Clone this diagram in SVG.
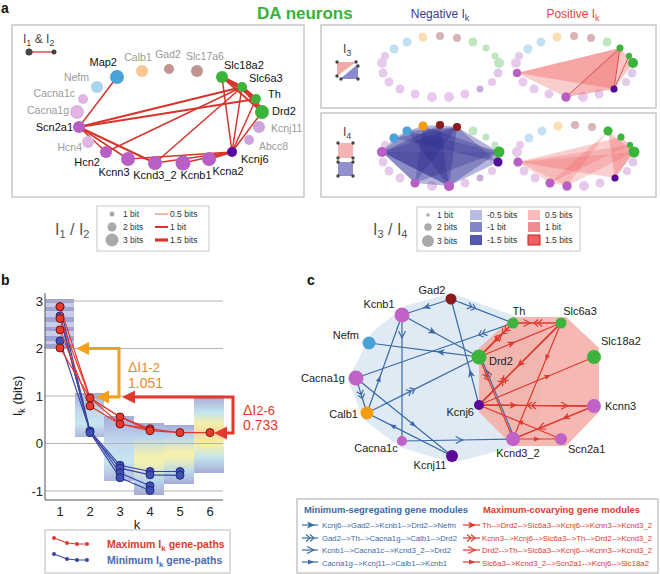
<svg xmlns="http://www.w3.org/2000/svg" xmlns:xlink="http://www.w3.org/1999/xlink" width="660" height="574" viewBox="0 0 660 574">
<style>
text{font-family:"Liberation Sans",Arial,sans-serif}
.lbl{font-size:11px;fill:#111}
.glbl{font-size:10.5px;fill:#9a9a9a}
.clbl{font-size:11px;fill:#222}
.pl{font-weight:bold;font-size:14px;fill:#111}
.re{stroke:#d7352b;fill:none;stroke-linecap:round}
.be{stroke:#3b6aa6;fill:none;stroke-width:1.2}
.rce{stroke:#e0392e;fill:none;stroke-width:1.2}
.box{fill:#fff;stroke:#c8c8c8;stroke-width:1.5}
.lg{font-size:8.5px;fill:#333}
.grid{stroke:#b4b4b4;stroke-width:1}
.tick{font-size:13px;fill:#222}
.bl{stroke:#3a44a6;stroke-width:1.2;fill:none}
.rl{stroke:#e2392c;stroke-width:1.2;fill:none}
.bp{fill:#3f4fb0;stroke:#202a80;stroke-width:1}
.rp{fill:#e53a2c;stroke:#7a1510;stroke-width:1}
.mt{font-size:8px}
</style>
<defs>
<g id="ring" opacity="0.32">
<circle cx="-46" cy="-18" r="4.5" fill="#4aa3d8"/>
<circle cx="-33" cy="-25" r="4.5" fill="#4aa3d8"/>
<circle cx="-17" cy="-30" r="4.5" fill="#f39c12"/>
<circle cx="0" cy="-31" r="4" fill="#8b1a1a"/>
<circle cx="17" cy="-29" r="4" fill="#8b1a1a"/>
<circle cx="33" cy="-25" r="4.5" fill="#3cb43c"/>
<circle cx="46" cy="-19" r="3.5" fill="#3cb43c"/>
<circle cx="55" cy="-11" r="3.5" fill="#3cb43c"/>
<circle cx="59" cy="-4" r="5" fill="#3cb43c"/>
<circle cx="58" cy="6" r="4.5" fill="#9a5cc8"/>
<circle cx="52" cy="15" r="4" fill="#b85ec4"/>
<circle cx="40" cy="22" r="3.5" fill="#5a0a9a"/>
<circle cx="25" cy="27" r="4.5" fill="#b85ec4"/>
<circle cx="9" cy="30" r="5" fill="#b85ec4"/>
<circle cx="-8" cy="30" r="5" fill="#b85ec4"/>
<circle cx="-25" cy="27" r="4.5" fill="#b85ec4"/>
<circle cx="-40" cy="22" r="4.5" fill="#b85ec4"/>
<circle cx="-51" cy="15" r="4.5" fill="#b85ec4"/>
<circle cx="-57" cy="6" r="4.5" fill="#b85ec4"/>
<circle cx="-58" cy="-4" r="5" fill="#b85ec4"/>
<circle cx="-55" cy="-11" r="4" fill="#b85ec4"/>
</g>
<linearGradient id="heat" x1="0" y1="0" x2="0" y2="1">
<stop offset="0" stop-color="#a6abd8"/>
<stop offset="0.2" stop-color="#b9d6ee"/>
<stop offset="0.45" stop-color="#f4f0b0"/>
<stop offset="0.55" stop-color="#f4f0b0"/>
<stop offset="0.8" stop-color="#b9d6ee"/>
<stop offset="1" stop-color="#a6abd8"/>
</linearGradient>
<linearGradient id="heat2" x1="0" y1="0" x2="0" y2="1">
<stop offset="0" stop-color="#a6abd8"/>
<stop offset="0.4" stop-color="#c2d8ee"/>
<stop offset="0.7" stop-color="#c6e6f0"/>
<stop offset="1" stop-color="#b0b6de"/>
</linearGradient>
<linearGradient id="heat6" x1="0" y1="0" x2="0" y2="1">
<stop offset="0" stop-color="#a6abd8"/>
<stop offset="0.2" stop-color="#c4e4ee"/>
<stop offset="0.35" stop-color="#f4f0a8"/>
<stop offset="0.48" stop-color="#f8d8a0"/>
<stop offset="0.62" stop-color="#f4f0a8"/>
<stop offset="0.8" stop-color="#c4e4ee"/>
<stop offset="1" stop-color="#a6abd8"/>
</linearGradient>
<marker id="bA" viewBox="-6 -6 12 12" markerWidth="12" markerHeight="12" orient="auto" markerUnits="userSpaceOnUse"><path d="M-4,-3.5 L4,0 L-4,3.5 L-2,0 Z" fill="#3b6aa6"/></marker>
<marker id="bB" viewBox="-6 -6 12 12" markerWidth="12" markerHeight="12" orient="auto" markerUnits="userSpaceOnUse"><path d="M-5,-3.5 L-1,0 L-5,3.5 M-1,-3.5 L3,0 L-1,3.5" fill="none" stroke="#3b6aa6" stroke-width="1.2"/></marker>
<marker id="bC" viewBox="-6 -6 12 12" markerWidth="12" markerHeight="12" orient="auto" markerUnits="userSpaceOnUse"><path d="M-4,-3.5 L3,0 L-4,3.5" fill="none" stroke="#3b6aa6" stroke-width="1.2"/></marker>
<marker id="bD" viewBox="-6 -6 12 12" markerWidth="12" markerHeight="12" orient="auto" markerUnits="userSpaceOnUse"><path d="M-3,-2.5 L3,0 L-3,2.5 Z" fill="#3b6aa6"/></marker>
<marker id="rA" viewBox="-6 -6 12 12" markerWidth="12" markerHeight="12" orient="auto" markerUnits="userSpaceOnUse"><path d="M-4,-3.5 L4,0 L-4,3.5 L-2,0 Z" fill="#e0392e"/></marker>
<marker id="rB" viewBox="-6 -6 12 12" markerWidth="12" markerHeight="12" orient="auto" markerUnits="userSpaceOnUse"><path d="M-5,-3.5 L-1,0 L-5,3.5 M-1,-3.5 L3,0 L-1,3.5" fill="none" stroke="#e0392e" stroke-width="1.2"/></marker>
<marker id="rC" viewBox="-6 -6 12 12" markerWidth="12" markerHeight="12" orient="auto" markerUnits="userSpaceOnUse"><path d="M-4,-3.5 L3,0 L-4,3.5" fill="none" stroke="#e0392e" stroke-width="1.2"/></marker>
<marker id="rD" viewBox="-6 -6 12 12" markerWidth="12" markerHeight="12" orient="auto" markerUnits="userSpaceOnUse"><path d="M-3,-2.5 L3,0 L-3,2.5 Z" fill="#e0392e"/></marker>
</defs>
<rect width="660" height="574" fill="#fff"/>

<!-- ================= Panel a ================= -->
<text class="pl" x="1" y="13">a</text>
<text x="257" y="19" font-size="17" font-weight="bold" fill="#36b23a">DA neurons</text>
<text x="440" y="18" font-size="12" fill="#3a3a98" text-anchor="middle">Negative I<tspan font-size="9" dy="3">k</tspan></text>
<text x="573" y="18" font-size="12" fill="#e8453c" text-anchor="middle">Positive I<tspan font-size="9" dy="3">k</tspan></text>

<rect class="box" x="12" y="25" width="292" height="172"/>
<text x="23" y="43" font-size="12" fill="#444">I<tspan font-size="9" dy="3">1</tspan><tspan dy="-3"> &amp; I</tspan><tspan font-size="9" dy="3">2</tspan></text>
<line x1="29" y1="52" x2="54" y2="52" stroke="#d7352b" stroke-width="1.3"/>
<circle cx="29" cy="52" r="3.5" fill="#444"/><circle cx="54" cy="52" r="2.5" fill="#444"/>

<g id="a-edges" class="re">
<line x1="79" y1="127" x2="117" y2="77" stroke-width="1.5"/>
<line x1="79" y1="127" x2="242" y2="87" stroke-width="2"/>
<line x1="79" y1="127" x2="256" y2="99" stroke-width="2"/>
<line x1="79" y1="127" x2="106" y2="152" stroke-width="1.5"/>
<line x1="79" y1="127" x2="128" y2="159" stroke-width="1.5"/>
<line x1="79" y1="127" x2="155" y2="163" stroke-width="2"/>
<line x1="106" y1="152" x2="242" y2="87" stroke-width="1.5"/>
<line x1="155" y1="163" x2="242" y2="87" stroke-width="1.5"/>
<line x1="128" y1="159" x2="232" y2="152" stroke-width="1.5"/>
<line x1="155" y1="163" x2="232" y2="152" stroke-width="1.5"/>
<line x1="183" y1="163" x2="232" y2="152" stroke-width="1.5"/>
<line x1="209" y1="159" x2="232" y2="152" stroke-width="2"/>
<line x1="232" y1="152" x2="222" y2="77" stroke-width="1.5"/>
<line x1="232" y1="152" x2="242" y2="87" stroke-width="1.5"/>
<line x1="232" y1="152" x2="256" y2="99" stroke-width="1.5"/>
<line x1="232" y1="152" x2="262" y2="112" stroke-width="1.5"/>
<line x1="222" y1="77" x2="242" y2="87" stroke-width="3"/>
<line x1="222" y1="77" x2="256" y2="99" stroke-width="2.5"/>
<line x1="222" y1="77" x2="262" y2="112" stroke-width="2"/>
<line x1="242" y1="87" x2="256" y2="99" stroke-width="3"/>
<line x1="242" y1="87" x2="262" y2="112" stroke-width="2.5"/>
<line x1="256" y1="99" x2="262" y2="112" stroke-width="2"/>
</g>

<g id="a-Map2"><circle cx="117" cy="77" r="7" fill="#4aa3d8"/><text class="lbl" x="117" y="66" text-anchor="end">Map2</text></g>
<g id="a-Calb1"><circle cx="142" cy="71" r="6" fill="#f8c890"/><text class="glbl" x="138" y="61" text-anchor="middle">Calb1</text></g>
<g id="a-Gad2"><circle cx="169" cy="69" r="5" fill="#c09490"/><text class="glbl" x="168" y="58" text-anchor="middle">Gad2</text></g>
<g id="a-Slc17a6"><circle cx="197" cy="71" r="6" fill="#c09490"/><text class="glbl" x="205" y="60" text-anchor="middle">Slc17a6</text></g>
<g id="a-Nefm"><circle cx="97" cy="87" r="6" fill="#a8d4ee"/><text class="glbl" x="89" y="81" text-anchor="end">Nefm</text></g>
<g id="a-Cacna1c"><circle cx="83" cy="99" r="5" fill="#e0b4e4"/><text class="glbl" x="75" y="97" text-anchor="end">Cacna1c</text></g>
<g id="a-Cacna1g"><circle cx="77" cy="112" r="7" fill="#e0b4e4"/><text class="glbl" x="69" y="114" text-anchor="end">Cacna1g</text></g>
<g id="a-Scn2a1"><circle cx="79" cy="127" r="6" fill="#b85ec4"/><text class="lbl" x="73" y="131" text-anchor="end">Scn2a1</text></g>
<g id="a-Hcn4"><circle cx="88" cy="142" r="6" fill="#e0b4e4"/><text class="glbl" x="82" y="151" text-anchor="end">Hcn4</text></g>
<g id="a-Hcn2"><circle cx="106" cy="152" r="6" fill="#b85ec4"/><text class="lbl" x="100" y="166" text-anchor="end">Hcn2</text></g>
<g id="a-Kcnn3"><circle cx="128" cy="159" r="7" fill="#b85ec4"/><text class="lbl" x="114" y="176" text-anchor="middle">Kcnn3</text></g>
<g id="a-Kcnd3_2"><circle cx="155" cy="163" r="7" fill="#b85ec4"/><text class="lbl" x="155" y="179" text-anchor="middle">Kcnd3_2</text></g>
<g id="a-Kcnb1"><circle cx="183" cy="163" r="7.5" fill="#b85ec4"/><text class="lbl" x="196" y="179" text-anchor="middle">Kcnb1</text></g>
<g id="a-Kcna2"><circle cx="209" cy="159" r="7" fill="#b85ec4"/><text class="lbl" x="228" y="175" text-anchor="middle">Kcna2</text></g>
<g id="a-Kcnj6"><circle cx="232" cy="152" r="5" fill="#5a0a9a"/><text class="lbl" x="241" y="163">Kcnj6</text></g>
<g id="a-Abcc8"><circle cx="249" cy="140" r="5" fill="#cca4dc"/><text class="glbl" x="259" y="150">Abcc8</text></g>
<g id="a-Kcnj11"><circle cx="259" cy="127" r="6" fill="#cca4dc"/><text class="glbl" x="271" y="132">Kcnj11</text></g>
<g id="a-Drd2"><circle cx="262" cy="112" r="7" fill="#3cb43c"/><text class="lbl" x="272" y="115">Drd2</text></g>
<g id="a-Th"><circle cx="256" cy="99" r="5" fill="#3cb43c"/><text class="lbl" x="268" y="98">Th</text></g>
<g id="a-Slc6a3"><circle cx="242" cy="87" r="5" fill="#3cb43c"/><text class="lbl" x="249" y="82">Slc6a3</text></g>
<g id="a-Slc18a2"><circle cx="222" cy="77" r="6" fill="#3cb43c"/><text class="lbl" x="224" y="69">Slc18a2</text></g>

<!-- legend I1/I2 -->
<text x="55" y="235" font-size="16" fill="#555">I<tspan font-size="11" dy="3">1</tspan><tspan dy="-3"> / I</tspan><tspan font-size="11" dy="3">2</tspan></text>
<g id="a-legend1">
<rect x="97" y="206" width="112" height="45" fill="#fff" stroke="#c8c8c8"/>
<circle cx="112" cy="214" r="2.5" fill="#aaa"/><circle cx="112" cy="227" r="4.5" fill="#aaa"/><circle cx="112" cy="240" r="6.5" fill="#aaa"/>
<text class="lg" x="123" y="217">1 bit</text><text class="lg" x="123" y="230">2 bits</text><text class="lg" x="123" y="243">3 bits</text>
<line x1="155" y1="214" x2="168" y2="214" stroke="#ea6c60" stroke-width="1"/>
<line x1="155" y1="227" x2="168" y2="227" stroke="#d7352b" stroke-width="2"/>
<line x1="155" y1="240" x2="168" y2="240" stroke="#d7352b" stroke-width="3.2"/>
<text class="lg" x="170" y="217">0.5 bits</text><text class="lg" x="170" y="230">1 bit</text><text class="lg" x="170" y="243">1.5 bits</text>
</g>

<!-- I3 box -->
<rect class="box" x="321" y="25" width="335" height="83"/>
<text x="343" y="53" font-size="12" fill="#444">I<tspan font-size="9" dy="3">3</tspan></text>
<polygon points="337,62 356,62 337,76" fill="#f4a8a8"/>
<polygon points="358,64 358,79 340,79" fill="#8a8ad0"/>
<g fill="#444"><circle cx="337" cy="62" r="1.7"/><circle cx="356" cy="62" r="1.7"/><circle cx="358" cy="66" r="1.7"/><circle cx="337" cy="76" r="1.7"/><circle cx="341" cy="79" r="1.7"/><circle cx="358" cy="79" r="1.7"/></g>
<use xlink:href="#ring" x="440" y="67"/>
<use xlink:href="#ring" x="574" y="67"/>
<g id="i3-pos">
<polygon points="517,73 620,48 614,89" fill="#ee5a5a" opacity="0.55"/>
<polygon points="517,73 566,97 614,89" fill="#ee5a5a" opacity="0.3"/>
<polygon points="620,48 633,63 614,89" fill="#ee5a5a" opacity="0.35"/>
<polygon points="566,97 620,48 614,89" fill="#ee5a5a" opacity="0.2"/>
<g stroke="#d03a3a" stroke-width="0.8"><line x1="566" y1="97" x2="620" y2="48"/><line x1="620" y1="48" x2="614" y2="89"/><line x1="629" y1="56" x2="614" y2="89"/></g>
<circle cx="517" cy="73" r="4" fill="#b85ec4"/>
<circle cx="620" cy="48" r="3.5" fill="#3cb43c"/>
<circle cx="629" cy="56" r="3" fill="#3cb43c"/>
<circle cx="633" cy="63" r="5" fill="#3cb43c"/>
<circle cx="614" cy="89" r="3.5" fill="#5a0a9a"/>
<circle cx="566" cy="97" r="4.5" fill="#b85ec4"/>
</g>

<!-- I4 box -->
<rect class="box" x="321" y="113" width="335" height="84"/>
<text x="343" y="136" font-size="12" fill="#444">I<tspan font-size="9" dy="3">4</tspan></text>
<rect x="338" y="143" width="15" height="15" fill="#f4b4b4"/>
<rect x="338" y="162" width="15" height="14" fill="#9090cc"/>
<g fill="#444"><circle cx="338" cy="143" r="1.7"/><circle cx="353" cy="143" r="1.7"/><circle cx="338" cy="158" r="1.7"/><circle cx="353" cy="158" r="1.7"/><circle cx="338" cy="162" r="1.7"/><circle cx="353" cy="162" r="1.7"/><circle cx="338" cy="176" r="1.7"/><circle cx="353" cy="176" r="1.7"/></g>
<use xlink:href="#ring" x="440" y="156"/>
<use xlink:href="#ring" x="575" y="156"/>
<g id="i4-neg">
<polygon points="382,152 394,138 407,131 423,126 440,125 457,127 499,152 498,162 449,186 415,183" fill="#5a5ab4" opacity="0.45"/>
<polygon points="382,152 499,152 449,186" fill="#2a2a8e" opacity="0.35"/>
<polygon points="382,152 440,125 449,186" fill="#2a2a8e" opacity="0.35"/>
<polygon points="407,131 457,127 449,186" fill="#2a2a8e" opacity="0.35"/>
<polygon points="423,126 499,152 415,183" fill="#2a2a8e" opacity="0.3"/>
<polygon points="394,138 457,127 498,162" fill="#2a2a8e" opacity="0.3"/>
<polygon points="382,152 457,127 415,183" fill="#2a2a8e" opacity="0.3"/>
<polygon points="382,152 407,131 499,152" fill="#2a2a8e" opacity="0.25"/>
<circle cx="382" cy="152" r="5" fill="#b85ec4"/>
<circle cx="394" cy="138" r="4.5" fill="#4aa3d8"/>
<circle cx="407" cy="131" r="4.5" fill="#4aa3d8"/>
<circle cx="423" cy="126" r="4.5" fill="#f39c12"/>
<circle cx="440" cy="125" r="4" fill="#8b1a1a"/>
<circle cx="457" cy="127" r="4" fill="#8b1a1a"/>
<circle cx="499" cy="152" r="5.5" fill="#3cb43c"/>
<circle cx="498" cy="162" r="4.5" fill="#5a0a9a"/>
<circle cx="449" cy="186" r="5" fill="#b85ec4"/>
<circle cx="415" cy="183" r="4.5" fill="#b85ec4"/>
</g>
<g id="i4-pos">
<polygon points="518,162 621,137 615,178" fill="#f06060" opacity="0.3"/>
<polygon points="518,162 630,145 550,183" fill="#f06060" opacity="0.25"/>
<polygon points="518,162 634,152 567,186" fill="#f06060" opacity="0.25"/>
<polygon points="608,131 615,178 634,152" fill="#f06060" opacity="0.35"/>
<polygon points="621,137 630,145 615,178" fill="#f06060" opacity="0.35"/>
<polygon points="550,183 608,131 567,186" fill="#f06060" opacity="0.25"/>
<polygon points="630,145 634,152 615,178" fill="#f06060" opacity="0.3"/>
<circle cx="518" cy="162" r="4.5" fill="#b85ec4"/>
<circle cx="608" cy="131" r="4.5" fill="#3cb43c"/>
<circle cx="621" cy="137" r="3.5" fill="#3cb43c"/>
<circle cx="630" cy="145" r="3" fill="#3cb43c"/>
<circle cx="634" cy="152" r="5.5" fill="#3cb43c"/>
<circle cx="615" cy="178" r="3.5" fill="#5a0a9a"/>
<circle cx="550" cy="183" r="4.5" fill="#b85ec4"/>
<circle cx="567" cy="186" r="4.5" fill="#b85ec4"/>
</g>

<!-- legend I3/I4 -->
<text x="373" y="235" font-size="16" fill="#555">I<tspan font-size="11" dy="3">3</tspan><tspan dy="-3"> / I</tspan><tspan font-size="11" dy="3">4</tspan></text>
<g id="a-legend2">
<rect x="417" y="207" width="163" height="44" fill="#fff" stroke="#c8c8c8"/>
<circle cx="428" cy="215" r="1.8" fill="#aaa"/><circle cx="428" cy="227" r="3.8" fill="#aaa"/><circle cx="428" cy="241" r="6" fill="#aaa"/>
<text class="lg" x="437" y="218">1 bit</text><text class="lg" x="437" y="230">2 bits</text><text class="lg" x="437" y="244">3 bits</text>
<rect x="470" y="210" width="12" height="10" fill="#b8bce2"/>
<rect x="470" y="222" width="12" height="10" fill="#8286c6"/>
<rect x="470" y="235" width="12" height="10" fill="#5358ae"/>
<text class="lg" x="487" y="218">-0.5 bits</text><text class="lg" x="487" y="230">-1 bit</text><text class="lg" x="487" y="243">-1.5 bits</text>
<rect x="528" y="210" width="12" height="10" fill="#f8bcbc"/>
<rect x="528" y="222" width="12" height="10" fill="#f28c8c"/>
<rect x="528" y="235" width="12" height="10" fill="#ec6060" stroke="#c82020" stroke-width="1"/>
<text class="lg" x="545" y="218">0.5 bits</text><text class="lg" x="545" y="230">1 bit</text><text class="lg" x="545" y="243">1.5 bits</text>
</g>

<!-- ================= Panel b ================= -->
<text class="pl" x="1" y="285">b</text>
<g id="b-bars">
<rect x="45" y="299" width="29" height="50" fill="#c8cce8"/>
<g fill="#9ea4d4">
<rect x="45" y="299" width="29" height="4"/><rect x="45" y="307" width="29" height="4"/><rect x="45" y="317" width="29" height="5"/><rect x="45" y="327" width="29" height="4"/><rect x="45" y="336" width="29" height="5"/><rect x="45" y="344" width="29" height="5"/>
</g>
<rect x="75" y="393" width="29" height="44" fill="url(#heat2)"/>
<rect x="104" y="416" width="30" height="65" fill="url(#heat2)"/>
<rect x="134" y="423" width="30" height="72" fill="url(#heat)"/>
<rect x="164" y="425" width="30" height="59" fill="url(#heat)"/>
<rect x="194" y="397" width="30" height="76" fill="url(#heat6)"/>
</g>
<g id="b-axes">
<line class="grid" x1="45" y1="301" x2="223" y2="301"/>
<line class="grid" x1="45" y1="348.5" x2="223" y2="348.5"/>
<line class="grid" x1="45" y1="396" x2="223" y2="396"/>
<line class="grid" x1="45" y1="443.5" x2="223" y2="443.5"/>
<line class="grid" x1="45" y1="491" x2="223" y2="491"/>
<line x1="45" y1="293" x2="45" y2="500" stroke="#555" stroke-width="1"/>
<line x1="45" y1="500" x2="223" y2="500" stroke="#555" stroke-width="1"/>
<text class="tick" x="43" y="305.5" text-anchor="end">3</text>
<text class="tick" x="43" y="353" text-anchor="end">2</text>
<text class="tick" x="43" y="400.5" text-anchor="end">1</text>
<text class="tick" x="43" y="448" text-anchor="end">0</text>
<text class="tick" x="43" y="495.5" text-anchor="end">-1</text>
<text class="tick" x="60" y="516" text-anchor="middle">1</text>
<text class="tick" x="90" y="516" text-anchor="middle">2</text>
<text class="tick" x="120" y="516" text-anchor="middle">3</text>
<text class="tick" x="150" y="516" text-anchor="middle">4</text>
<text class="tick" x="180" y="516" text-anchor="middle">5</text>
<text class="tick" x="210" y="516" text-anchor="middle">6</text>
<text class="tick" x="137" y="529" text-anchor="middle">k</text>
<text class="tick" transform="translate(22,396) rotate(-90)" text-anchor="middle">I<tspan font-size="9" dy="3">k</tspan><tspan dy="-3"> (bits)</tspan></text>
</g>
<g id="b-min">
<polyline class="bl" points="60,306.7 90,431 120,465.3 150,471.5 180,471.5"/>
<polyline class="bl" points="60,316 90,432.5 120,468.2 150,474.8 180,475.3"/>
<polyline class="bl" points="60,340.9 90,431 120,473 150,485.8"/>
<polyline class="bl" points="60,316 90,432.5 120,477.7 150,490.5"/>
<g class="bp">
<circle cx="60" cy="306.7" r="4"/><circle cx="60" cy="316" r="4"/><circle cx="60" cy="340.9" r="4"/>
<circle cx="90" cy="431" r="4"/><circle cx="90" cy="432.5" r="4"/>
<circle cx="120" cy="465.3" r="4"/><circle cx="120" cy="468.2" r="4"/><circle cx="120" cy="473" r="4"/><circle cx="120" cy="477.7" r="4"/>
<circle cx="150" cy="471.5" r="4"/><circle cx="150" cy="474.8" r="4"/><circle cx="150" cy="485.8" r="4"/><circle cx="150" cy="490.5" r="4"/>
<circle cx="180" cy="471.5" r="4"/><circle cx="180" cy="475.3" r="4"/>
</g>
</g>
<g id="b-max">
<polyline class="rl" points="60,306.7 90,397.9 120,416.9 150,428.8 180,432.6 210,432.6"/>
<polyline class="rl" points="60,318.5 90,397.9 120,424 150,430.7 180,432.6"/>
<polyline class="rl" points="60,329.9 90,406 120,424 150,428.8"/>
<polyline class="rl" points="60,348 90,397.9 120,416.9 150,430.7"/>
<g class="rp">
<circle cx="60" cy="306.7" r="4"/><circle cx="60" cy="318.5" r="4"/><circle cx="60" cy="329.9" r="4"/><circle cx="60" cy="348" r="4"/>
<circle cx="90" cy="397.9" r="4"/><circle cx="90" cy="406" r="4"/>
<circle cx="120" cy="416.9" r="4"/><circle cx="120" cy="424" r="4"/>
<circle cx="150" cy="428.8" r="4"/><circle cx="150" cy="430.7" r="4"/>
<circle cx="180" cy="432.6" r="4"/><circle cx="210" cy="432.6" r="4"/>
</g>
</g>
<g id="b-delta12">
<polyline points="84,348.5 119,348.5 119,397 104,397" fill="none" stroke="#f5a01a" stroke-width="3"/>
<polygon points="76,348.5 89,342 89,355" fill="#f5a01a"/>
<polygon points="96,397 109,390.5 109,403.5" fill="#f5a01a"/>
<text x="128" y="372" font-size="14" fill="#f08a24">ΔI<tspan font-size="13">1-2</tspan></text>
<text x="128" y="388" font-size="14" fill="#f08a24">1.051</text>
</g>
<g id="b-delta26">
<polyline points="130,397 233,397 233,433 222,433" fill="none" stroke="#e2392c" stroke-width="3"/>
<polygon points="122,397 135,390.5 135,403.5" fill="#e2392c"/>
<polygon points="214,433 227,426.5 227,439.5" fill="#e2392c"/>
<text x="243" y="415" font-size="14" fill="#e2392c">ΔI<tspan font-size="13">2-6</tspan></text>
<text x="243" y="430" font-size="14" fill="#e2392c">0.733</text>
</g>
<g id="b-legend">
<rect x="45" y="530" width="185" height="43" fill="#fff" stroke="#bbb"/>
<polyline points="54,538 67,543 77,544 87,544" fill="none" stroke="#e2392c" stroke-width="1.2"/>
<g fill="#e2392c"><circle cx="54" cy="538" r="2"/><circle cx="67" cy="543" r="2"/><circle cx="77" cy="544" r="2"/><circle cx="87" cy="544" r="2"/></g>
<polyline points="54,554 67,559 77,560 87,560" fill="none" stroke="#3a44a6" stroke-width="1.2"/>
<g fill="#3a44a6"><circle cx="54" cy="554" r="2"/><circle cx="67" cy="559" r="2"/><circle cx="77" cy="560" r="2"/><circle cx="87" cy="560" r="2"/></g>
<text x="107" y="548" font-size="10.5" font-weight="bold" fill="#e2392c">Maximum I<tspan font-size="8" dy="3">k</tspan><tspan dy="-3">  gene-paths</tspan></text>
<text x="107" y="564" font-size="10.5" font-weight="bold" fill="#4a6ab0">Minimum I<tspan font-size="8" dy="3">k</tspan><tspan dy="-3"> gene-paths</tspan></text>
</g>

<!-- ================= Panel c ================= -->
<text class="pl" x="307" y="285">c</text>
<polygon id="c-bluehull" points="405,306 451,293 515,316 540,345 540,440 452,463 400,447 364,420 348,380 372,332" fill="#dfeaf4"/>
<polygon id="c-redhull" points="513,317 566,317 599,348 599,412 566,446 513,446 479,412 479,348" fill="#f4b0aa" opacity="0.9"/>

<g id="c-edges">
<path class="be" d="M479,405 L470.6,373.2 L451,299" marker-mid="url(#bA)"/>
<path class="be" d="M451,299 L426.5,307 L402,315" marker-mid="url(#bA)"/>
<path class="be" d="M402,315 L432.8,331.8 L479,357" marker-mid="url(#bA)"/>
<path class="be" d="M479,357 L440.5,352.1 L369,343" marker-mid="url(#bA)"/>
<path class="be" d="M451,299 L472.7,307.4 L513,323" marker-mid="url(#bB)"/>
<path class="be" d="M513,323 L481.6,334 L356,378" marker-mid="url(#bB)"/>
<path class="be" d="M356,378 L361.5,395.5 L367,413" marker-mid="url(#bB)"/>
<path class="be" d="M367,413 L411.8,390.6 L479,357" marker-mid="url(#bB)"/>
<path class="be" d="M402,315 L402,335 L402,441" marker-mid="url(#bC)"/>
<path class="be" d="M402,441 L459.7,440 L513,439" marker-mid="url(#bC)"/>
<path class="be" d="M514.5,438.4 L487.3,372.8 L480.5,356.4" marker-mid="url(#bC)"/>
<path class="be" d="M356,378 L413.6,424.8 L452,456" marker-mid="url(#bD)"/>
<path class="be" d="M452,456 L392.5,425.9 L367,413" marker-mid="url(#bD)"/>
<path class="be" d="M367,413 L379.3,378.7 L402,315" marker-mid="url(#bD)"/>

<path class="rce" d="M513,323 L496,340 L479,357" marker-mid="url(#rA)"/>
<path class="rce" d="M479,357 L511.8,343.4 L561,323" marker-mid="url(#rA)"/>
<path class="rce" d="M561,323 L520,364 L479,405" marker-mid="url(#rA)"/>
<path class="rce" d="M479,405 L513.5,405.3 L594,406" marker-mid="url(#rA)"/>
<path class="rce" d="M594,406 L565.7,417.6 L513,439" marker-mid="url(#rA)"/>
<path class="rce" d="M594,406 L530.8,405.5 L479,405" marker-mid="url(#rB)"/>
<path class="rce" d="M479,405 L503.6,380.4 L561,323" marker-mid="url(#rB)"/>
<path class="rce" d="M561,323 L537,323 L513,323" marker-mid="url(#rB)"/>
<path class="rce" d="M513,323 L504.5,331.5 L479,357" marker-mid="url(#rB)"/>
<path class="rce" d="M479,357 L487.5,377.5 L513,439" marker-mid="url(#rB)"/>
<path class="rce" d="M479,357 L499.4,336.6 L513,323" marker-mid="url(#rC)"/>
<path class="rce" d="M513,323 L527.4,323 L561,323" marker-mid="url(#rC)"/>
<path class="rce" d="M561,323 L503.6,380.4 L479,405" marker-mid="url(#rC)"/>
<path class="rce" d="M479,405 L565,405.8 L594,406" marker-mid="url(#rC)"/>
<path class="rce" d="M594,406 L541.3,427.5 L513,439" marker-mid="url(#rC)"/>
<path class="rce" d="M561,323 L546.6,357.8 L513,439" marker-mid="url(#rD)"/>
<path class="rce" d="M513,439 L537,439 L561,439" marker-mid="url(#rD)"/>
<path class="rce" d="M561,439 L520,422 L479,405" marker-mid="url(#rD)"/>
<path class="rce" d="M479,405 L548,376.2 L594,357" marker-mid="url(#rD)"/>
</g>

<g id="c-Gad2"><circle cx="451" cy="299" r="5.5" fill="#8b1a1a"/><text class="clbl" x="432" y="294" text-anchor="middle">Gad2</text></g>
<g id="c-Kcnb1"><circle cx="402" cy="315" r="7.5" fill="#c062c8"/><text class="clbl" x="379" y="308" text-anchor="middle">Kcnb1</text></g>
<g id="c-Th"><circle cx="513" cy="323" r="5.5" fill="#3cb43c"/><text class="clbl" x="519" y="315" text-anchor="middle">Th</text></g>
<g id="c-Slc6a3"><circle cx="561" cy="323" r="5.5" fill="#3cb43c"/><text class="clbl" x="580" y="315" text-anchor="middle">Slc6a3</text></g>
<g id="c-Nefm"><circle cx="369" cy="343" r="6.5" fill="#4aa3d8"/><text class="clbl" x="359" y="339" text-anchor="end">Nefm</text></g>
<g id="c-Drd2"><circle cx="479" cy="357" r="7.5" fill="#3cb43c"/><text class="clbl" x="489" y="365">Drd2</text></g>
<g id="c-Slc18a2"><circle cx="594" cy="357" r="7" fill="#3cb43c"/><text class="clbl" x="601" y="345">Slc18a2</text></g>
<g id="c-Cacna1g"><circle cx="356" cy="378" r="7.5" fill="#c062c8"/><text class="clbl" x="345" y="382" text-anchor="end">Cacna1g</text></g>
<g id="c-Kcnj6"><circle cx="479" cy="405" r="5" fill="#5a0a9a"/><text class="clbl" x="474" y="416" text-anchor="end">Kcnj6</text></g>
<g id="c-Kcnn3"><circle cx="594" cy="406" r="7" fill="#c062c8"/><text class="clbl" x="605" y="410">Kcnn3</text></g>
<g id="c-Calb1"><circle cx="367" cy="413" r="6.5" fill="#f39c12"/><text class="clbl" x="358" y="418" text-anchor="end">Calb1</text></g>
<g id="c-Cacna1c"><circle cx="402" cy="441" r="5" fill="#c062c8"/><text class="clbl" x="376" y="452" text-anchor="middle">Cacna1c</text></g>
<g id="c-Kcnj11"><circle cx="452" cy="456" r="6" fill="#5a0a9a"/><text class="clbl" x="430" y="469" text-anchor="middle">Kcnj11</text></g>
<g id="c-Kcnd3_2"><circle cx="513" cy="439" r="7" fill="#c062c8"/><text class="clbl" x="518" y="457" text-anchor="middle">Kcnd3_2</text></g>
<g id="c-Scn2a1"><circle cx="561" cy="439" r="6" fill="#c062c8"/><text class="clbl" x="568" y="453">Scn2a1</text></g>

<g id="c-legend">
<rect x="297" y="499" width="361" height="74" fill="#fff" stroke="#aaa"/>
<text x="304" y="513" font-size="9.5" font-weight="bold" fill="#3b6aa6" textLength="164" lengthAdjust="spacingAndGlyphs">Minimum-segregating gene modules</text>
<text x="483" y="513" font-size="9.5" font-weight="bold" fill="#e0392e" textLength="157" lengthAdjust="spacingAndGlyphs">Maximum-covarying gene modules</text>
<path class="be" d="M302,525 L311,525 L318,525" marker-mid="url(#bA)"/>
<path class="be" d="M302,538 L311,538 L318,538" marker-mid="url(#bB)"/>
<path class="be" d="M302,550 L311,550 L318,550" marker-mid="url(#bC)"/>
<path class="be" d="M302,562 L311,562 L318,562" marker-mid="url(#bD)"/>
<g class="mt" fill="#3b6aa6">
<text x="322" y="528" textLength="134" lengthAdjust="spacingAndGlyphs">Kcnj6--&gt;Gad2--&gt;Kcnb1--&gt;Drd2--&gt;Nefm</text>
<text x="322" y="541" textLength="135" lengthAdjust="spacingAndGlyphs">Gad2--&gt;Th--&gt;Cacna1g--&gt;Calb1--&gt;Drd2</text>
<text x="322" y="553" textLength="129" lengthAdjust="spacingAndGlyphs">Kcnb1--&gt;Cacna1c--&gt;Kcnd3_2--&gt;Drd2</text>
<text x="322" y="566" textLength="125" lengthAdjust="spacingAndGlyphs">Cacna1g--&gt;Kcnj11--&gt;Calb1--&gt;Kcnb1</text>
</g>
<path class="rce" d="M463,525 L472,525 L480,525" marker-mid="url(#rA)"/>
<path class="rce" d="M463,538 L472,538 L480,538" marker-mid="url(#rB)"/>
<path class="rce" d="M463,550 L472,550 L480,550" marker-mid="url(#rC)"/>
<path class="rce" d="M463,562 L472,562 L480,562" marker-mid="url(#rD)"/>
<g class="mt" fill="#e0392e">
<text x="482" y="528" textLength="170" lengthAdjust="spacingAndGlyphs">Th--&gt;Drd2--&gt;Slc6a3--&gt;Kcnj6--&gt;Kcnn3--&gt;Kcnd3_2</text>
<text x="482" y="541" textLength="170" lengthAdjust="spacingAndGlyphs">Kcnn3--&gt;Kcnj6--&gt;Slc6a3--&gt;Th--&gt;Drd2--&gt;Kcnd3_2</text>
<text x="482" y="553" textLength="170" lengthAdjust="spacingAndGlyphs">Drd2--&gt;Th--&gt;Slc6a3--&gt;Kcnj6--&gt;Kcnn3--&gt;Kcnd3_2</text>
<text x="482" y="566" textLength="167" lengthAdjust="spacingAndGlyphs">Slc6a3--&gt;Kcnd3_2--&gt;Scn2a1--&gt;Kcnj6--&gt;Slc18a2</text>
</g>
</g>
</svg>
